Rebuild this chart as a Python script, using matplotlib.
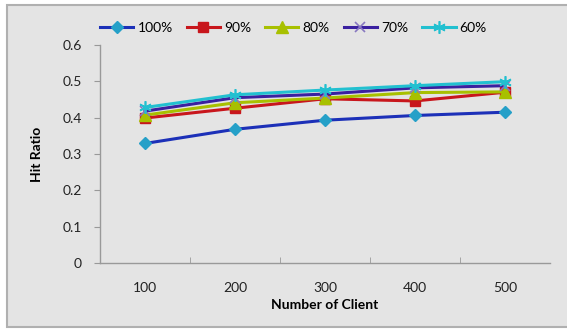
import matplotlib
matplotlib.use("Agg")
import matplotlib.pyplot as plt
from matplotlib.patches import Rectangle

plt.rcParams['font.family'] = ['Lato', 'DejaVu Sans']

categories = ["100", "200", "300", "400", "500"]
series_names = ["100%", "90%", "80%", "70%", "60%"]
v100 = [0.329, 0.368, 0.393, 0.406, 0.415]
v90 = [0.399, 0.426, 0.452, 0.446, 0.470]
v80 = [0.407, 0.441, 0.454, 0.469, 0.471]
v70 = [0.418, 0.455, 0.465, 0.482, 0.488]
v60 = [0.428, 0.463, 0.476, 0.488, 0.499]
yticks = [0, 0.1, 0.2, 0.3, 0.4, 0.5, 0.6]

bg = '#e4e4e4'
fig = plt.figure(figsize=(5.67, 3.29), dpi=100)
fig.patch.set_facecolor('white')
fig.patches.append(Rectangle((7/567, 2/329), 1.2, 322/329, transform=fig.transFigure,
                             facecolor=bg, edgecolor='#b0b0b0', linewidth=1.5, zorder=-1))

ax = fig.add_axes([100/567, (329-263)/329, 450/567, (263-45)/329])
ax.set_facecolor(bg)
x = list(range(len(categories)))

styles = [
    dict(color='#1c30b8', marker='D', mfc='#25a0c8', mec='#25a0c8', ms=6),
    dict(color='#c8161c', marker='s', mfc='#c8161c', mec='#c8161c', ms=7),
    dict(color='#a8c000', marker='^', mfc='#a8c000', mec='#a8c000', ms=8),
    dict(color='#3a20a0', marker='x', mfc='none', mec='#8878c0', ms=7, mew=1.2),
    dict(color='#22c0d0', marker=(6, 2, 0), mfc='none', mec='#22c0d0', ms=9, mew=1.2),
]
for name, vals, st in zip(series_names, [v100, v90, v80, v70, v60], styles):
    ax.plot(x, vals, lw=2.2, label=name, **st)

ax.set_xlim(-0.5, len(categories) - 0.5)
ax.set_ylim(0, 0.6)
ax.set_yticks(yticks)
ax.set_yticklabels([f"{t:g}" for t in yticks])
ax.set_xticks(x)
ax.set_xticklabels(categories)
ax.set_xticks([i + 0.5 for i in range(len(categories) - 1)], minor=True)
ax.tick_params(axis='x', which='major', length=0, pad=14, labelsize=10, colors='#222222')
ax.tick_params(axis='x', which='minor', length=4, direction='in', color='#999999')
ax.tick_params(axis='y', length=4, direction='out', color='#999999', pad=9, labelsize=10, labelcolor='#222222')
for s in ['top', 'right']:
    ax.spines[s].set_visible(False)
for s in ['left', 'bottom']:
    ax.spines[s].set_color('#999999')
    ax.spines[s].set_linewidth(1)

ax.set_xlabel("Number of Client", fontsize=10, fontweight='bold', labelpad=3)
ax.set_ylabel("Hit Ratio", fontsize=10, fontweight='bold', labelpad=14)

leg = ax.legend(loc='lower left', bbox_to_anchor=(0.0, 1.05), ncol=5, frameon=False,
                fontsize=10, handlelength=2.4, handletextpad=0.3, columnspacing=1.0,
                borderaxespad=0, borderpad=0)

fig.savefig("out.png", dpi=100, facecolor=fig.get_facecolor())
